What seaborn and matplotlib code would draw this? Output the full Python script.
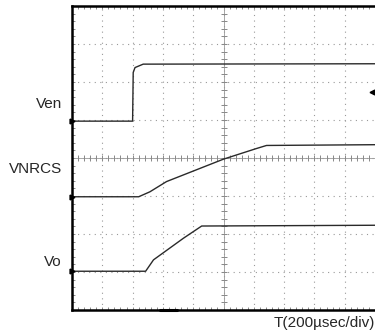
import numpy as np
import pandas as pd
import matplotlib
matplotlib.use("Agg")
import matplotlib.pyplot as plt
import seaborn as sns

# Trace data (time in divisions, level in divisions from bottom)
ven_t = [0, 2.0, 2.02, 2.08, 2.35, 10]
ven_v = [4.97, 4.97, 6.25, 6.38, 6.47, 6.48]
vnrcs_t = [0, 2.2, 2.57, 3.12, 5.0, 6.09, 6.42, 10]
vnrcs_v = [2.98, 2.98, 3.11, 3.38, 3.97, 4.25, 4.33, 4.35]
vo_t = [0, 2.43, 2.69, 3.68, 4.28, 10]
vo_v = [1.02, 1.02, 1.32, 1.89, 2.21, 2.23]
labels = ["Ven", "VNRCS", "Vo"]
label_y = [5.42, 3.7, 1.27]
xlabel = "T(200µsec/div)"

sns.set_style("white")
plt.rcParams['font.family'] = ['Liberation Sans', 'DejaVu Sans']

fig = plt.figure(figsize=(3.75, 3.35), dpi=100)
ax = fig.add_axes([72/375, 25/335, 303/375, 304/335])
ax.set_xlim(0, 10)
ax.set_ylim(0, 8)

# grid
grid_kw = dict(color='#999999', lw=0.8, ls=(0, (1, 4)), zorder=1)
for gx in range(1, 10):
    ax.axvline(gx, **grid_kw)
for gy in range(1, 8):
    ax.axhline(gy, **grid_kw)
# center axes with small ticks
ax.axhline(4, color='#999999', lw=0.6, zorder=1)
ax.axvline(5, color='#999999', lw=0.6, zorder=1)
mx = np.arange(0, 10.01, 0.2)
my = np.arange(0, 8.01, 0.2)
ax.plot(mx, np.full_like(mx, 4), ls='none', marker='|', ms=4, mew=0.7, color='#888888', zorder=1)
ax.plot(np.full_like(my, 5), my, ls='none', marker='_', ms=4, mew=0.7, color='#888888', zorder=1)

frames = []
for name, t, v in [("Ven", ven_t, ven_v), ("VNRCS", vnrcs_t, vnrcs_v), ("Vo", vo_t, vo_v)]:
    frames.append(pd.DataFrame({"t": t, "v": v, "ch": name}))
df = pd.concat(frames, ignore_index=True)
sns.lineplot(data=df, x="t", y="v", units="ch", estimator=None, color='#2a2a2a',
             lw=1.0, ax=ax, legend=False, sort=False, zorder=3)

# channel ground markers
for v0 in [ven_v[0], vnrcs_v[0], vo_v[0]]:
    ax.plot([0], [v0], marker='>', ms=3.5, color='black', clip_on=False, zorder=5)
ax.plot([9.9], [5.74], marker='<', ms=3.5, color='black', clip_on=False, zorder=5)
ax.plot([2.9, 3.45], [0, 0], color='black', lw=2.2, clip_on=False, zorder=5)

for lab, ly in zip(labels, label_y):
    ax.text(-0.33, ly, lab, ha='right', va='center', fontsize=11, transform=ax.transData)
fig.text(1.0, 1 - 323/335, xlabel, ha='right', va='center', fontsize=11,
         transform=fig.transFigure)

ax.set_xticks(range(0, 11))
ax.set_yticks(range(0, 9))
ax.set_xticks(np.arange(0, 10.01, 0.2), minor=True)
ax.set_yticks(np.arange(0, 8.01, 0.2), minor=True)
ax.tick_params(which='both', direction='in', length=2.5, width=0.6, color='#777777',
               labelbottom=False, labelleft=False, top=True, bottom=True, left=True, right=False)
ax.set_xlabel("")
ax.set_ylabel("")
for s in ['left', 'bottom', 'top']:
    ax.spines[s].set_linewidth(1.8)
    ax.spines[s].set_color('black')
ax.spines['right'].set_visible(False)

fig.savefig("out.png", dpi=100)
